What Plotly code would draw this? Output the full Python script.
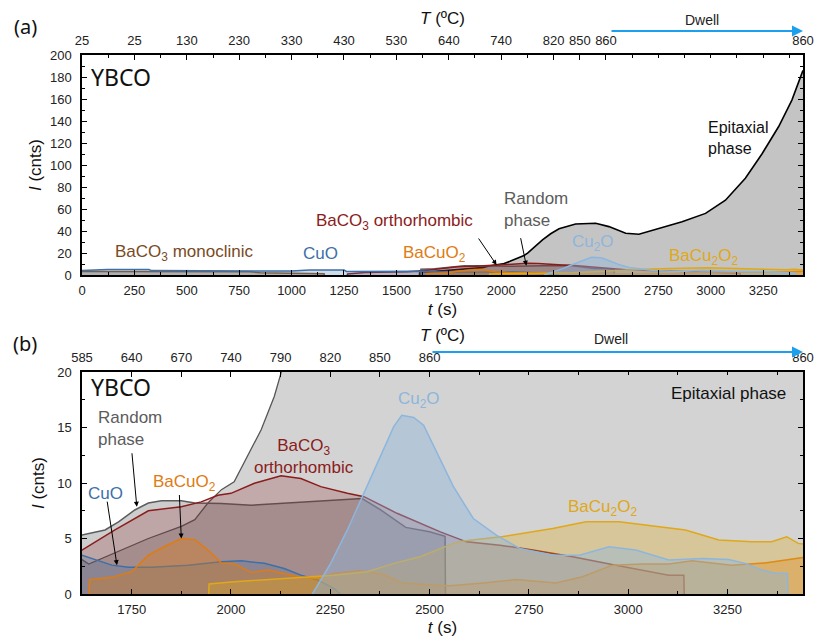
import plotly.graph_objects as go

# ---------------- data: time t (s) vs integrated intensity I (cnts) ----------------
t_epi = [1610, 1612, 1642, 1708, 1792, 1875, 1909, 1942, 1976, 2008, 2042, 2076, 2109,
         2126, 2160, 2197, 2236, 2276, 2355, 2451, 2514, 2594, 2657, 2752, 2863, 2975,
         3070, 3165, 3244, 3324, 3387, 3440]
I_epi = [0, 3.4, 2.7, 3.7, 5.0, 6.1, 6.7, 8.2, 9.4, 10.1, 12.4, 14.8, 17.8,
         19.9, 26, 32, 37.5, 42, 46.4, 47, 44, 38, 37, 42, 48.5, 56,
         68, 88, 110, 135, 159, 186]

t_rand = [1615, 1617, 1683, 1717, 1758, 1792, 1825, 1875, 1909, 1976, 2051, 2200, 2309,
          2330, 2376, 2440, 2500, 2539, 2540]
I_rand = [0, 5.25, 5.77, 6.5, 7.57, 8.2, 8.4, 8.4, 8.2, 8.15, 8.0, 8.3, 8.5,
          8.6, 7.6, 6.0, 5.6, 5.2, 0]

t_orth = [1265, 1267, 1350, 1450, 1550, 1625, 1708, 1792, 1875, 1925, 1967, 2000, 2059,
          2126, 2176, 2226, 2293, 2335, 2418, 2527, 2593, 2677, 2760, 2860, 2969, 3052,
          3102, 3140, 3141]
I_orth = [0, 1.0, 2.2, 2.5, 3.0, 3.96, 5.77, 7.5, 7.87, 8.3, 8.9, 9.07, 9.97,
          10.66, 10.4, 9.67, 9.07, 8.77, 7.27, 5.6, 4.7, 4.4, 3.96, 3.36, 2.6, 2.0,
          1.7, 1.7, 0]

t_mono = [0, 300, 800, 850, 1000, 1155, 1156]
I_mono = [3.2, 3.3, 3.0, 2.0, 1.5, 1.2, 0]

t_cuo = [0, 120, 320, 330, 1000, 1086, 1250, 1262, 1625, 1700, 1742, 1800, 1892, 1976,
         2026, 2084, 2134, 2176, 2218, 2259, 2276]
I_cuo = [4.0, 5.0, 5.0, 4.0, 3.6, 4.5, 4.5, 3.2, 3.5, 2.6, 2.4, 2.4, 2.6, 2.9,
         3.0, 2.76, 2.3, 1.7, 1.26, 0.5, 0]

t_bacuo2 = [1643, 1644, 1700, 1750, 1792, 1834, 1875, 1909, 1942, 1976, 2009, 2051, 2093,
            2134, 2176, 2218, 2259, 2326, 2384, 2434, 2551, 2635, 2718, 2818, 2885, 2960,
            3035, 3102, 3161, 3260, 3344, 3440]
I_bacuo2 = [0, 1.3, 1.5, 2.0, 3.5, 4.3, 5.0, 4.9, 3.96, 2.8, 2.7, 1.95, 2.16,
            1.8, 1.5, 1.4, 1.86, 2.1, 1.75, 0.96, 0.75, 1.0, 1.3, 1.0, 1.56, 2.6,
            2.7, 2.7, 3.0, 2.6, 2.8, 3.3]

t_bacu2o2 = [1944, 1945, 2008, 2134, 2259, 2343, 2410, 2476, 2560, 2585, 2685, 2810, 2894,
             2977, 3027, 3144, 3228, 3311, 3361, 3399, 3428, 3440]
I_bacu2o2 = [0, 0.9, 1.1, 1.4, 1.7, 2.0, 2.76, 3.36, 4.56, 4.77, 5.17, 5.9, 6.5,
             6.5, 6.3, 5.77, 4.86, 4.7, 4.7, 5.16, 4.56, 4.5]

t_cu2o = [2205, 2251, 2293, 2335, 2376, 2410, 2430, 2460, 2485, 2518, 2560, 2610, 2668,
          2727, 2810, 2877, 2952, 3019, 3077, 3102, 3186, 3253, 3294, 3336, 3370, 3401, 3402]
I_cu2o = [0, 2.76, 5.77, 9.07, 12.4, 15.1, 16.1, 15.9, 15.2, 12.7, 9.67, 6.8, 5.3,
          4.1, 3.5, 3.5, 4.26, 3.96, 3.36, 3.06, 3.2, 3.1, 2.76, 2.16, 1.86, 1.86, 0]

# temperature labels on the top axes
top_a_vals = [0, 250, 500, 750, 1000, 1250, 1500, 1750, 2000, 2250, 2375, 2500, 3440]
top_a_text = ["25", "25", "130", "230", "330", "430", "530", "640", "740", "820", "850", "860", "860"]
top_b_vals = [1625, 1750, 1875, 2000, 2125, 2250, 2375, 2500, 3440]
top_b_text = ["585", "640", "670", "740", "790", "820", "850", "860", "860"]

T_END = 3440

W, H = 814, 637
FONT = "Liberation Sans, Arial, sans-serif"


def px(x):
    return x / W


def py(y):
    return 1 - y / H


phases = [
    # name, t, I, line colour, fill colour
    ("Random phase", t_rand, I_rand, "#5c5c5c", "rgba(90,90,90,0.30)"),
    ("BaCO3 orthorhombic", t_orth, I_orth, "#8b1c1c", "rgba(139,26,26,0.22)"),
    ("BaCO3 monoclinic", t_mono, I_mono, "#8b5a2b", "rgba(139,90,43,0.35)"),
    ("CuO", t_cuo, I_cuo, "#3d6fa8", "rgba(61,111,168,0.25)"),
    ("BaCuO2", t_bacuo2, I_bacuo2, "#e07b12", "rgba(224,123,18,0.35)"),
    ("BaCu2O2", t_bacu2o2, I_bacu2o2, "#e0a818", "rgba(224,168,24,0.30)"),
    ("Cu2O", t_cu2o, I_cu2o, "#8db6dd", "rgba(141,182,221,0.42)"),
]

fig = go.Figure()


def add_panel(xa, ya, xtop, epi_fill, epi_line, epi_width):
    fig.add_trace(go.Scatter(x=t_epi, y=I_epi, xaxis=xa, yaxis=ya, mode="lines",
                             fill="tozeroy", fillcolor=epi_fill,
                             line=dict(color=epi_line, width=epi_width),
                             name="Epitaxial phase", showlegend=False, hoverinfo="skip"))
    for name, t, I, lc, fc in phases:
        fig.add_trace(go.Scatter(x=t, y=I, xaxis=xa, yaxis=ya, mode="lines",
                                 fill="tozeroy", fillcolor=fc,
                                 line=dict(color=lc, width=1.5),
                                 name=name, showlegend=False, hoverinfo="skip"))
    # transparent copy bound to the temperature axis so that axis gets drawn
    fig.add_trace(go.Scatter(x=t_epi, y=I_epi, xaxis=xtop, yaxis=ya, mode="lines",
                             line=dict(width=0), opacity=0, showlegend=False, hoverinfo="skip"))


add_panel("x", "y", "x3", "#c4c4c4", "#000000", 1.6)
add_panel("x2", "y2", "x4", "#d3d3d3", "#555555", 1.3)

tickfont = dict(family=FONT, size=13, color="#222")
titlefont = dict(family=FONT, size=17, color="#111")
common_x = dict(showgrid=False, zeroline=False, showline=True, linecolor="#000", linewidth=1.5,
                ticks="inside", ticklen=5, tickwidth=1.2, tickcolor="#000", tickfont=tickfont,
                ticklabelstandoff=3, automargin=False)
common_y = dict(showgrid=False, zeroline=False, showline=True, linecolor="#000", linewidth=1.5,
                ticks="inside", ticklen=5, tickwidth=1.2, tickcolor="#000", tickfont=tickfont,
                mirror="ticks", ticklabelstandoff=6, automargin=False)

xdom = [px(82), px(803)]
ydom_a = [py(275), py(55)]
ydom_b = [py(594), py(372)]

fig.update_layout(
    width=W, height=H, autosize=False,
    margin=dict(l=0, r=0, t=0, b=0, autoexpand=False),
    paper_bgcolor="white", plot_bgcolor="white",
    showlegend=False,
    font=dict(family=FONT, color="#111"),
    xaxis=dict(common_x, domain=xdom, anchor="y", range=[0, T_END],
               tickmode="array", tickvals=list(range(0, 3251, 250)),
               minor=dict(ticks="inside", ticklen=3, tickcolor="#000", dtick=125, tick0=0),
               title=dict(text="<i>t</i> (s)", font=titlefont, standoff=6)),
    yaxis=dict(common_y, domain=ydom_a, anchor="x", range=[0, 200], dtick=20,
               minor=dict(ticks="inside", ticklen=3, tickcolor="#000", dtick=10),
               title=dict(text="<i>I</i> (cnts)", font=titlefont, standoff=4)),
    xaxis3=dict(common_x, overlaying="x", side="top", anchor="y", range=[0, T_END],
                tickmode="array", tickvals=top_a_vals, ticktext=top_a_text,
                minor=dict(ticks="inside", ticklen=3, tickcolor="#000", dtick=125, tick0=0),
                title=dict(text="<i>T</i> (ºC)", font=titlefont, standoff=4)),
    xaxis2=dict(common_x, domain=xdom, anchor="y2", range=[1625, T_END],
                tickmode="array", tickvals=list(range(1750, 3251, 250)),
                minor=dict(ticks="inside", ticklen=3, tickcolor="#000", dtick=125, tick0=0),
                title=dict(text="<i>t</i> (s)", font=titlefont, standoff=6)),
    yaxis2=dict(common_y, domain=ydom_b, anchor="x2", range=[0, 20], dtick=5,
                minor=dict(ticks="inside", ticklen=3, tickcolor="#000", dtick=2.5),
                title=dict(text="<i>I</i> (cnts)", font=titlefont, standoff=8)),
    xaxis4=dict(common_x, overlaying="x2", side="top", anchor="y2", range=[1625, T_END],
                tickmode="array", tickvals=top_b_vals, ticktext=top_b_text,
                minor=dict(ticks="inside", ticklen=3, tickcolor="#000", dtick=125, tick0=0),
                title=dict(text="<i>T</i> (ºC)", font=titlefont, standoff=4)),
)

ann = []


def label(x, y, text, color, size=17, anchor="left", family=FONT):
    ann.append(dict(x=px(x), y=py(y), xref="paper", yref="paper", text=text, showarrow=False,
                    xanchor=anchor, yanchor="middle", align=anchor if anchor != "center" else "center",
                    font=dict(family=family, size=size, color=color)))


def pointer(x, y, xr, yr, ax, ay):
    ann.append(dict(x=x, y=y, xref=xr, yref=yr, ax=ax, ay=ay, text="", showarrow=True,
                    arrowhead=2, arrowsize=1, arrowwidth=1, arrowcolor="#000", standoff=0))


def dwell(xr, y, length, lx, ly):
    ann.append(dict(x=T_END, y=py(y), xref=xr, yref="paper", ax=-length, ay=0,
                    axref="pixel", ayref="pixel", text="", showarrow=True,
                    arrowhead=2, arrowsize=1.1, arrowwidth=2, arrowcolor="#1aa0ef", standoff=0))
    label(lx, ly, "Dwell", "#222", size=14, anchor="center")


# panel labels and sample name
label(25, 27, "(a)", "#111", size=20, anchor="center", family="Noto Sans, sans-serif")
label(25, 343, "(b)", "#111", size=20, anchor="center", family="Noto Sans, sans-serif")
label(89, 77, "YBCO", "#111", size=23, family="Noto Sans, sans-serif")
label(89, 387, "YBCO", "#111", size=23, family="Noto Sans, sans-serif")

# panel (a) phase labels
label(706, 138, "Epitaxial<br>phase", "#111", size=16)
label(502, 210, "Random<br>phase", "#5c5c5c", size=17)
label(314, 222, "BaCO<sub>3</sub> orthorhombic", "#8b1c1c", size=17)
label(113, 253, "BaCO<sub>3</sub> monoclinic", "#7a4a1e", size=17)
label(301, 253, "CuO", "#3d6fa8", size=17)
label(401, 254, "BaCuO<sub>2</sub>", "#e07b12", size=17)
label(570, 243, "Cu<sub>2</sub>O", "#8db6dd", size=17)
label(667, 257, "BaCu<sub>2</sub>O<sub>2</sub>", "#e0a818", size=17)
pointer(1978, 9.1, "x", "y", -19, -28)
pointer(2120, 8.5, "x", "y", -6, -29)

# panel (b) phase labels
label(96, 428, "Random<br>phase", "#5c5c5c", size=17)
label(86, 493, "CuO", "#3d6fa8", size=17)
label(151, 483, "BaCuO<sub>2</sub>", "#e07b12", size=17)
label(304, 456, "BaCO<sub>3</sub><br>orthorhombic", "#8b1c1c", size=17, anchor="center")
label(396, 400, "Cu<sub>2</sub>O", "#8db6dd", size=17)
label(669, 393, "Epitaxial phase", "#111", size=17)
label(566, 508, "BaCu<sub>2</sub>O<sub>2</sub>", "#e0a818", size=17)
pointer(1763, 7.86, "x2", "y2", -5, -55)
pointer(1713, 2.6, "x2", "y2", -10, -65)
pointer(1875, 5.0, "x2", "y2", -2, -45)

# dwell at 860 ºC
dwell("x", 31, 193, 702, 20)
dwell("x2", 352, 372, 611, 339)

fig.update_layout(annotations=ann)

fig.write_html("out.html")
